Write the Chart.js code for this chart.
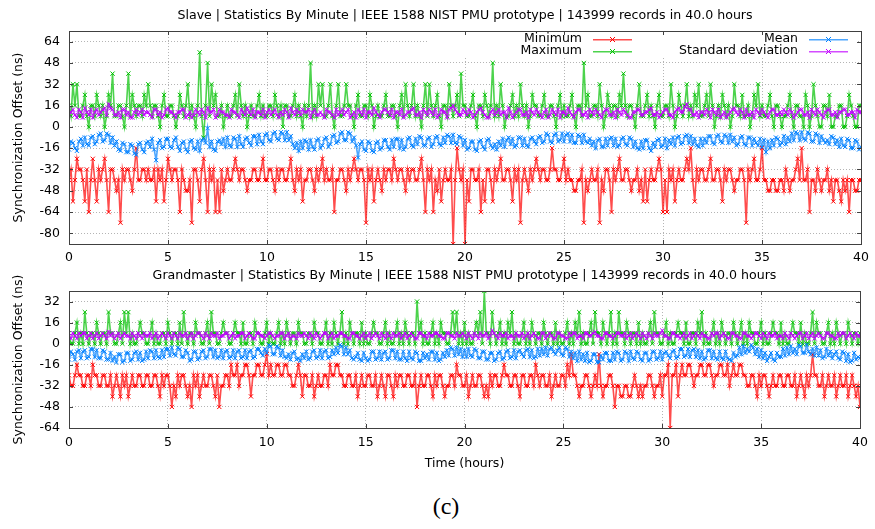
<!DOCTYPE html>
<html>
<head>
<meta charset="utf-8">
<script src="https://cdn.jsdelivr.net/npm/chart.js@4.4.1/dist/chart.umd.min.js"></script>
<style>
  html, body { margin: 0; padding: 0; background: #fff; }
  body { width: 875px; height: 529px; position: relative; overflow: hidden; }
  .panel { position: absolute; left: 0; }
  #topPanel { top: 0; }
  #bottomPanel { top: 255px; }
  #caption { position: absolute; left: 0; width: 892px; top: 493px; text-align: center;
             font: 24px "Liberation Serif", "DejaVu Serif", serif; color: #000; }
</style>
</head>
<body>
<canvas id="topPanel" class="panel" width="875" height="270"></canvas>
<canvas id="bottomPanel" class="panel" width="875" height="225"></canvas>
<div id="caption">(c)</div>
<script>
// one sample every 6 minutes, 0 .. 40 h (each row below = 2 hours)
const hoursPerSample = 0.1;
const seriesNames = ['Minimum', 'Maximum', 'Mean', 'Standard deviation'];
const slaveTicks = [64, 48, 32, 16, 0, -16, -32, -48, -64, -80];
const gmTicks = [32, 16, 0, -16, -32, -48, -64];

// Slave (ns)
const slaveMin = [
  -40,-32,-56,-40,-24,-32,-32,-40,-56,-32,-64,-40,-24,-40,-56,-32,-40,-32,-24,-40,
  -64,-32,-32,-40,-48,-40,-72,-32,-40,-32,-32,-40,-48,-32,-16,-40,-40,-32,-32,-40,
  -32,-40,-40,-32,-56,-32,-40,-32,-56,-40,-24,-32,-40,-32,-32,-40,-64,-32,-40,-48,
  -48,-40,-72,-32,-32,-40,-56,-32,-24,-40,-64,-32,-40,-32,-64,-40,-64,-32,-48,-40,
  -32,-40,-40,-32,-24,-32,-40,-32,-32,-40,-48,-40,-40,-32,-32,-40,-40,-32,-24,-40,
  -40,-32,-32,-40,-48,-32,-40,-32,-32,-40,-40,-32,-24,-40,-48,-32,-40,-32,-56,-40,
  -40,-32,-32,-40,-48,-32,-40,-32,-24,-40,-32,-40,-40,-32,-64,-40,-40,-32,-32,-40,
  -48,-32,-40,-32,-24,-32,-40,-32,-32,-40,-72,-32,-40,-32,-56,-40,-32,-40,-48,-32,
  -40,-32,-32,-40,-24,-32,-40,-32,-32,-40,-48,-32,-40,-32,-32,-40,-40,-32,-24,-40,
  -64,-32,-40,-32,-64,-40,-48,-32,-56,-40,-32,-40,-40,-32,-88,-40,-16,-32,-40,-32,
  -88,-40,-56,-32,-32,-40,-40,-32,-64,-40,-56,-32,-32,-40,-56,-32,-40,-32,-24,-40,
  -40,-32,-32,-40,-56,-32,-40,-32,-72,-40,-32,-40,-48,-32,-40,-32,-24,-32,-40,-32,
  -32,-40,-40,-32,-16,-32,-32,-40,-40,-32,-24,-40,-32,-40,-40,-48,-48,-40,-40,-32,
  -72,-40,-48,-40,-32,-40,-40,-32,-72,-40,-48,-32,-32,-40,-64,-32,-40,-32,-24,-40,
  -40,-32,-32,-40,-48,-40,-40,-32,-48,-40,-56,-32,-56,-40,-32,-40,-40,-32,-24,-32,
  -64,-40,-64,-32,-40,-32,-56,-40,-32,-40,-40,-32,-24,-32,-16,-40,-56,-32,-40,-32,
  -32,-40,-40,-32,-24,-40,-40,-32,-32,-40,-56,-32,-40,-32,-32,-40,-48,-40,-40,-32,
  -32,-40,-72,-32,-40,-32,-24,-40,-40,-32,-16,-40,-40,-48,-48,-40,-40,-48,-48,-40,
  -40,-48,-32,-40,-48,-40,-40,-32,-24,-40,-16,-40,-40,-32,-64,-40,-40,-48,-32,-40,
  -48,-40,-40,-32,-48,-40,-56,-40,-40,-48,-56,-40,-48,-40,-64,-40,-40,-48,-48,-40,
  -40
];
const slaveMax = [
  16,8,32,16,32,8,8,16,24,8,0,16,16,8,24,16,8,16,0,8,
  24,16,40,8,8,16,16,8,0,16,40,8,24,16,8,16,16,8,24,16,
  32,16,8,16,16,8,0,16,24,8,8,16,16,8,0,8,24,16,8,16,
  32,8,16,8,0,16,56,8,-8,16,48,8,32,16,24,8,8,16,0,8,
  16,8,8,16,24,8,32,16,8,16,0,8,16,8,8,16,24,8,16,8,
  8,16,16,8,24,16,8,16,0,16,16,8,8,16,24,8,16,8,0,16,
  8,16,48,8,16,8,32,16,32,8,8,16,32,8,0,16,32,8,8,16,
  32,16,16,8,0,16,24,8,8,16,16,8,24,16,0,8,16,8,8,16,
  24,8,8,16,16,8,0,16,24,8,32,16,8,16,32,8,16,8,0,16,
  32,8,32,16,8,16,24,8,0,16,16,8,32,16,8,16,24,8,40,16,
  16,8,8,16,24,8,0,16,16,8,24,16,8,16,48,8,16,8,32,16,
  0,8,8,16,24,8,16,8,32,16,8,16,0,8,24,16,16,8,8,16,
  24,8,8,16,16,8,0,16,24,8,16,8,8,16,24,8,0,16,16,8,
  48,16,24,8,8,16,16,8,32,16,0,8,24,16,8,16,16,8,24,16,
  40,16,8,16,16,8,0,16,32,8,8,16,24,8,16,8,0,16,24,8,
  8,16,16,8,32,16,0,8,24,16,8,16,32,8,16,8,24,16,32,8,
  8,16,24,8,32,16,0,8,16,8,24,16,8,16,0,8,32,16,16,8,
  24,8,8,16,0,8,24,16,32,8,16,8,8,16,24,8,0,16,16,8,
  0,8,8,16,24,8,0,16,16,8,8,0,24,16,0,8,32,16,8,0,
  0,16,16,8,24,0,0,8,8,16,16,0,0,8,24,16,8,0,0,16,
  16
];
const slaveMean = [
  -17,-11,-12,-16,-18,-11,-9,-14,-8,-13,-14,-8,-7,-13,-11,-6,-5,-11,-10,-5,
  -6,-12,-8,-14,-11,-17,-18,-12,-13,-19,-19,-13,-14,-20,-21,-13,-12,-17,-19,-12,
  -11,-15,-9,-17,-25,-12,-10,-16,-15,-9,-9,-15,-16,-10,-8,-15,-18,-12,-11,-17,
  -19,-11,-10,-16,-17,-11,-18,-10,-9,-12,-1,-15,-11,-17,-18,-11,-10,-13,-9,-15,
  -8,-14,-15,-8,-9,-15,-7,-13,-15,-9,-8,-12,-14,-7,-7,-13,-6,-11,-13,-6,
  -5,-10,-11,-5,-4,-9,-10,-4,-5,-10,-4,-10,-7,-13,-16,-12,-18,-11,-16,-10,
  -11,-17,-10,-15,-17,-10,-9,-16,-14,-9,-8,-15,-13,-7,-6,-12,-11,-5,-4,-10,
  -10,-4,-5,-11,-8,-14,-23,-13,-11,-17,-18,-11,-12,-18,-19,-12,-11,-17,-16,-10,
  -10,-15,-17,-10,-15,-9,-9,-16,-10,-17,-15,-9,-8,-14,-15,-9,-13,-7,-8,-14,
  -14,-9,-8,-15,-13,-8,-7,-13,-14,-8,-12,-6,-7,-12,-6,-12,-13,-7,-8,-14,
  -10,-17,-16,-11,-11,-17,-18,-11,-10,-15,-17,-10,-9,-14,-16,-13,-17,-11,-14,-9,
  -15,-10,-8,-13,-9,-15,-14,-8,-8,-14,-9,-14,-15,-9,-8,-11,-13,-8,-7,-12,
  -11,-5,-6,-11,-12,-6,-5,-11,-10,-5,-11,-6,-5,-11,-6,-12,-12,-6,-7,-12,
  -6,-11,-12,-9,-14,-11,-16,-10,-9,-15,-15,-9,-14,-9,-8,-14,-9,-15,-14,-9,
  -8,-13,-14,-8,-9,-15,-11,-16,-17,-11,-16,-10,-10,-16,-18,-12,-15,-10,-9,-15,
  -14,-9,-16,-10,-13,-8,-14,-8,-7,-13,-12,-7,-6,-12,-7,-13,-9,-14,-15,-9,
  -14,-9,-12,-7,-7,-12,-13,-7,-6,-11,-12,-6,-7,-12,-6,-11,-8,-14,-13,-8,
  -7,-13,-14,-8,-8,-14,-9,-12,-14,-9,-15,-10,-19,-11,-16,-10,-14,-8,-9,-14,
  -12,-7,-13,-8,-11,-5,-10,-4,-5,-10,-4,-9,-10,-4,-5,-11,-11,-5,-6,-12,
  -7,-10,-12,-10,-13,-7,-8,-13,-10,-15,-9,-14,-15,-9,-10,-16,-16,-10,-11,-17,
  -15
];
const slaveStd = [
  9,11,13,9,7,13,11,7,14,11,9,13,7,11,13,9,11,13,14,9,
  17,14,13,9,9,11,7,13,13,9,11,7,7,11,13,9,11,13,9,11,
  11,9,7,13,13,9,11,7,9,13,14,11,11,9,7,11,11,13,13,7,
  9,11,7,9,13,11,9,13,11,7,14,11,11,13,7,9,13,11,11,9,
  9,7,13,11,11,9,7,13,11,9,14,11,9,13,7,11,11,9,13,7,
  11,13,9,11,13,9,7,11,9,13,11,7,14,11,9,13,11,9,13,11,
  11,13,7,11,13,9,9,11,9,7,13,11,11,9,7,13,9,11,13,9,
  11,13,7,9,11,7,13,11,9,13,7,11,11,9,14,11,9,7,11,13,
  13,11,9,13,7,11,11,9,13,7,9,11,11,13,14,9,9,11,7,13,
  11,9,13,11,9,13,7,9,13,11,11,7,13,14,16,13,11,9,9,13,
  11,9,13,11,7,9,11,13,14,11,9,7,7,11,13,9,11,13,9,11,
  11,7,14,11,7,9,11,13,13,9,9,11,7,13,11,9,13,11,9,7,
  11,13,7,9,13,11,9,13,7,11,11,9,14,11,9,7,11,13,13,9,
  9,11,7,13,11,9,13,11,9,7,11,13,13,9,9,11,7,13,11,9,
  13,11,9,7,7,11,11,13,13,9,9,11,11,13,14,9,9,11,7,9,
  11,13,13,9,9,7,11,13,14,11,11,15,17,13,13,9,9,11,7,11,
  11,9,13,11,7,13,11,9,13,7,9,11,7,9,11,13,14,11,9,13,
  11,7,13,9,9,11,7,13,11,9,13,11,9,7,11,13,13,9,9,11,
  9,13,11,9,13,11,7,9,11,13,13,9,9,11,7,13,11,9,13,11,
  9,7,11,13,13,9,9,11,7,11,11,13,13,9,9,11,11,7,13,11,
  11
];

// Grandmaster (ns)
const gmMin = [
  -24,-32,-32,-24,-16,-24,-24,-32,-32,-24,-24,-32,-16,-24,-24,-32,-32,-24,-24,-32,
  -32,-24,-40,-32,-24,-32,-40,-24,-32,-24,-40,-32,-24,-32,-32,-24,-24,-32,-32,-24,
  -24,-32,-32,-24,-24,-32,-40,-24,-32,-24,-24,-32,-48,-32,-40,-24,-32,-24,-24,-32,
  -40,-32,-48,-24,-32,-24,-40,-32,-24,-32,-32,-24,-24,-32,-40,-24,-48,-32,-32,-24,
  -24,-32,-16,-24,-24,-16,-32,-24,-24,-16,-16,-24,-40,-24,-24,-16,-16,-24,-24,-16,
  -8,-24,-16,-24,-24,-16,-16,-24,-24,-16,-16,-24,-24,-32,-32,-24,-16,-24,-40,-24,
  -24,-32,-32,-24,-40,-32,-24,-32,-32,-24,-24,-32,-16,-24,-24,-16,-16,-24,-24,-32,
  -32,-24,-24,-32,-32,-24,-40,-32,-24,-32,-32,-24,-24,-32,-32,-24,-40,-32,-24,-32,
  -40,-24,-24,-32,-40,-24,-32,-24,-24,-32,-32,-24,-24,-32,-32,-24,-48,-32,-24,-32,
  -32,-24,-24,-32,-40,-24,-32,-24,-24,-32,-40,-32,-32,-24,-24,-32,-16,-24,-24,-32,
  -32,-24,-40,-32,-24,-32,-32,-24,-24,-32,-40,-32,-40,-24,-32,-24,-24,-32,-32,-24,
  -16,-24,-24,-32,-32,-24,-24,-32,-40,-24,-24,-32,-32,-24,-24,-32,-16,-24,-32,-24,
  -24,-32,-32,-24,-40,-32,-24,-32,-32,-24,-24,-32,-16,-24,-8,-24,-24,-32,-40,-32,
  -32,-24,-24,-32,-40,-32,-24,-32,-8,-32,-40,-32,-32,-24,-24,-32,-48,-32,-32,-40,
  -40,-32,-32,-40,-40,-32,-24,-32,-40,-32,-40,-32,-32,-24,-24,-32,-40,-32,-32,-24,
  -40,-24,-24,-16,-64,-24,-24,-16,-40,-24,-16,-24,-24,-16,-16,-24,-32,-24,-24,-16,
  -16,-24,-24,-16,-16,-24,-32,-24,-24,-16,-16,-24,-24,-16,-32,-24,-16,-24,-24,-16,
  -16,-24,-24,-32,-32,-24,-24,-32,-40,-24,-32,-24,-24,-32,-40,-32,-24,-32,-32,-24,
  -24,-32,-32,-24,-24,-32,-32,-24,-40,-32,-24,-32,-40,-24,-32,-24,-8,-24,-24,-32,
  -32,-24,-40,-32,-24,-32,-32,-24,-40,-32,-24,-32,-32,-24,-40,-32,-24,-32,-40,-32,
  -48
];
const gmMax = [
  8,0,0,8,16,0,8,0,24,8,0,8,8,0,16,8,0,8,8,0,
  24,8,8,0,0,8,16,0,24,8,24,0,8,0,0,8,16,8,8,0,
  0,8,16,0,8,0,0,8,8,0,16,8,0,8,8,0,16,0,24,8,
  0,8,8,0,16,8,8,0,0,8,16,0,24,8,8,0,0,8,16,8,
  8,0,0,8,16,8,8,0,16,0,0,8,8,0,16,8,8,0,0,8,
  16,0,8,0,0,8,16,0,8,0,16,8,0,8,8,0,16,8,8,0,
  0,8,8,0,16,8,8,0,0,8,16,0,8,0,16,8,0,8,24,0,
  8,0,16,8,0,8,8,0,16,0,8,0,0,8,16,8,8,0,0,8,
  16,0,8,0,0,8,16,0,8,0,16,8,0,8,8,0,32,8,16,0,
  8,0,0,8,16,0,8,0,16,8,8,0,0,8,24,8,24,0,8,0,
  16,0,8,0,0,8,16,8,24,0,40,8,8,0,24,8,0,8,16,0,
  8,0,16,8,24,0,8,0,0,8,16,0,8,0,16,8,0,8,8,0,
  16,8,0,8,8,0,16,0,8,0,0,8,16,0,8,0,16,8,24,0,
  8,0,0,8,16,0,24,8,8,0,16,8,0,8,24,0,8,0,24,8,
  8,0,16,8,0,8,8,0,16,0,8,0,0,8,16,0,24,8,8,0,
  0,8,16,0,8,0,0,8,16,8,8,0,16,0,0,8,8,0,16,8,
  24,0,8,0,0,8,16,0,8,0,16,8,0,8,8,0,16,8,0,8,
  16,0,8,0,16,8,8,0,0,8,16,0,8,0,0,8,16,8,8,0,
  16,0,8,0,0,8,16,8,8,0,16,0,8,0,0,8,24,0,16,8,
  8,0,0,8,16,0,8,0,16,8,0,8,8,0,16,8,0,8,8,0,
  8
];
const gmMean = [
  -12,-6,-8,-12,-6,-5,-11,-6,-5,-11,-10,-4,-4,-10,-5,-11,-11,-5,-6,-12,
  -12,-7,-13,-10,-14,-8,-8,-14,-13,-7,-7,-13,-12,-7,-6,-12,-7,-13,-12,-6,
  -11,-5,-6,-11,-5,-10,-11,-5,-10,-4,-4,-9,-3,-8,-9,-3,-4,-10,-10,-5,
  -7,-13,-12,-6,-6,-12,-11,-6,-5,-11,-10,-4,-4,-10,-5,-11,-10,-5,-11,-6,
  -5,-11,-10,-5,-11,-6,-5,-11,-10,-5,-11,-6,-5,-11,-10,-4,-4,-7,-9,-4,
  -7,-1,-2,-8,-8,-2,-3,-9,-5,-10,-11,-8,-12,-7,-6,-12,-11,-13,-8,-11,
  -6,-12,-11,-6,-5,-11,-10,-5,-11,-6,-5,-11,-10,-5,-8,-3,-7,-1,-2,-8,
  -3,-8,-5,-11,-12,-10,-7,-12,-13,-7,-11,-13,-12,-6,-6,-12,-11,-6,-12,-7,
  -6,-12,-11,-5,-5,-11,-6,-12,-12,-6,-11,-13,-6,-11,-12,-6,-7,-13,-13,-7,
  -11,-8,-12,-6,-6,-12,-7,-13,-12,-7,-10,-5,-9,-3,-4,-9,-3,-8,-4,-10,
  -5,-10,-4,-9,-10,-4,-5,-11,-11,-6,-6,-12,-12,-7,-7,-13,-12,-7,-6,-12,
  -11,-6,-5,-11,-10,-5,-11,-6,-5,-8,-10,-5,-4,-10,-5,-11,-10,-4,-9,-4,
  -8,-3,-9,-4,-3,-6,-8,-5,-3,-8,-9,-3,-4,-10,-6,-11,-7,-13,-6,-12,
  -8,-13,-7,-14,-13,-8,-8,-14,-14,-9,-12,-7,-7,-13,-13,-7,-12,-6,-7,-13,
  -12,-6,-7,-13,-6,-11,-12,-6,-7,-12,-13,-7,-7,-13,-12,-6,-6,-12,-11,-6,
  -12,-7,-6,-9,-11,-6,-5,-11,-10,-4,-4,-10,-9,-4,-10,-5,-4,-10,-5,-11,
  -6,-12,-11,-5,-5,-11,-6,-11,-12,-6,-11,-12,-6,-11,-12,-13,-7,-10,-9,-3,
  -8,-2,-7,-4,-6,-1,-3,-8,-4,-10,-5,-11,-7,-13,-10,-7,-12,-13,-7,-10,
  -10,-4,-9,-3,-8,-2,-7,-4,-8,-1,-2,-7,-7,-1,-6,-8,-4,-9,-3,-9,
  -5,-11,-10,-4,-9,-6,-11,-8,-6,-11,-12,-6,-7,-13,-8,-14,-13,-7,-12,-10,
  -11
];
const gmStd = [
  6,4,8,6,4,8,6,8,8,4,6,8,4,6,8,4,6,8,6,4,
  9,6,8,4,6,8,4,6,8,6,6,4,8,6,4,8,6,4,8,6,
  6,8,4,6,8,4,6,8,6,4,8,6,4,8,6,4,8,6,6,8,
  4,6,8,4,6,8,8,6,4,8,6,4,8,6,6,8,4,6,6,8,
  8,4,6,8,4,6,6,8,8,4,6,8,6,4,4,8,8,6,6,4,
  6,8,8,6,4,6,6,8,8,4,6,8,4,6,6,4,8,6,6,8,
  6,4,8,6,4,8,6,4,6,8,8,4,6,8,4,6,6,8,8,6,
  6,4,4,8,8,6,6,4,6,8,4,6,8,4,6,8,6,4,8,6,
  4,8,6,4,8,6,6,8,4,6,8,4,6,8,6,4,4,8,8,6,
  6,4,8,6,6,8,8,6,6,4,4,8,8,6,6,4,8,6,6,8,
  6,4,8,6,4,8,6,4,8,6,6,8,4,6,10,8,6,4,8,6,
  6,8,4,6,6,4,8,6,6,8,4,6,8,4,6,8,6,4,4,8,
  8,4,6,8,6,4,4,8,8,6,6,4,4,8,6,8,8,4,6,6,
  4,8,8,6,6,8,9,6,6,4,4,8,8,6,6,4,6,8,8,6,
  6,8,4,6,8,4,6,8,6,4,8,6,4,8,6,4,8,6,6,8,
  10,6,6,4,4,8,8,6,6,4,6,8,4,6,8,4,6,8,6,4,
  8,6,6,4,4,8,6,8,8,4,6,8,6,4,4,8,8,6,6,4,
  4,8,8,6,6,4,6,8,8,6,4,8,6,4,8,6,6,8,4,6,
  6,4,8,6,4,8,6,4,6,8,8,4,6,8,4,6,8,4,6,8,
  6,4,4,8,8,6,6,4,4,8,6,8,8,4,6,8,6,4,8,6,
  6
];

const FONT = '"DejaVu Sans", sans-serif';
const colors = ['#ff0000', '#00c000', '#0080ff', '#c000ff'];
const lineColors = ['rgba(255,0,0,0.7)', 'rgba(0,192,0,0.7)', 'rgba(0,128,255,0.7)', 'rgba(192,0,255,0.7)'];

function toPoints(values) {
  return values.map((v, i) => ({ x: i * hoursPerSample, y: v }));
}

function makeDatasets(series) {
  return series.map((values, i) => ({
    label: seriesNames[i],
    data: toPoints(values),
    borderColor: lineColors[i],
    borderWidth: 1.6,
    pointStyle: 'crossRot',
    pointRadius: 3,
    pointBorderWidth: 1,
    pointBorderColor: colors[i],
    pointBackgroundColor: colors[i],
    order: 4 - i
  }));
}

// gnuplot-like frame with inner tick marks
const framePlugin = {
  id: 'frame',
  afterDraw(chart) {
    const { ctx, chartArea: a, scales } = chart;
    ctx.save();
    ctx.strokeStyle = '#404040';
    ctx.lineWidth = 1;
    ctx.beginPath();
    scales.x.ticks.forEach(t => {
      const px = Math.round(scales.x.getPixelForValue(t.value)) + 0.5;
      ctx.moveTo(px, a.bottom); ctx.lineTo(px, a.bottom - 4);
      ctx.moveTo(px, a.top); ctx.lineTo(px, a.top + 4);
    });
    scales.y.ticks.forEach(t => {
      const py = Math.round(scales.y.getPixelForValue(t.value)) + 0.5;
      ctx.moveTo(a.left, py); ctx.lineTo(a.left + 4, py);
      ctx.moveTo(a.right, py); ctx.lineTo(a.right - 4, py);
    });
    ctx.stroke();
    ctx.strokeRect(Math.round(a.left) + 0.5, Math.round(a.top) + 0.5,
                   Math.round(a.right - a.left), Math.round(a.bottom - a.top));
    ctx.restore();
  }
};

// key in two columns, top right of the slave panel
const keyPlugin = {
  id: 'key',
  beforeDatasetsDraw(chart, args, opts) {
    if (!opts.show) return;
    const ctx = chart.ctx;
    ctx.save();
    ctx.fillStyle = '#fff';
    ctx.fillRect(428, chart.chartArea.top + 1, 430, 26);
    ctx.restore();
  },
  afterDatasetsDraw(chart, args, opts) {
    if (!opts.show) return;
    const ctx = chart.ctx;
    const slots = [[582, 39], [582, 51], [798, 39], [798, 51]];
    ctx.save();
    ctx.font = '12.5px ' + FONT;
    ctx.textAlign = 'right';
    ctx.textBaseline = 'middle';
    seriesNames.forEach((name, i) => {
      const [x, y] = slots[i];
      ctx.fillStyle = '#000';
      ctx.fillText(name, x, y);
      ctx.fillStyle = lineColors[i];
      ctx.fillRect(x + 11, y, 39, 1.5);
      const cx = x + 30.5;
      ctx.strokeStyle = colors[i];
      ctx.lineWidth = 1;
      ctx.beginPath();
      ctx.moveTo(cx - 2.5, y - 2); ctx.lineTo(cx + 2.5, y + 3);
      ctx.moveTo(cx - 2.5, y + 3); ctx.lineTo(cx + 2.5, y - 2);
      ctx.stroke();
    });
    ctx.restore();
  }
};

function makePanel(id, cfg) {
  const font = { family: FONT, size: 12.5 };
  return new Chart(document.getElementById(id), {
    type: 'line',
    data: { datasets: makeDatasets(cfg.series) },
    plugins: [framePlugin, keyPlugin],
    options: {
      responsive: false,
      animation: false,
      events: [],
      layout: { padding: { left: 0, right: 11, top: 0, bottom: 0 } },
      plugins: {
        legend: { display: false },
        tooltip: { enabled: false },
        key: { show: cfg.key },
        title: {
          display: true, text: cfg.title, fullSize: false, color: '#000',
          font: { family: FONT, size: 12.6, weight: 'normal', lineHeight: 1.2 },
          padding: { top: cfg.titleTop, bottom: cfg.titleBottom }
        }
      },
      scales: {
        x: {
          type: 'linear', min: 0, max: 40,
          ticks: { stepSize: 5, color: '#000', font, padding: cfg.xTickPad, maxRotation: 0 },
          grid: { color: '#b4b4b4', drawTicks: false },
          border: { display: false, dash: [1, 2] },
          title: { display: !!cfg.xTitle, text: cfg.xTitle || '', color: '#000', font,
                   padding: { top: 0, bottom: 9 } },
          afterFit: s => { s.height = cfg.xHeight; }
        },
        y: {
          type: 'linear', min: cfg.yMin, max: cfg.yMax,
          afterBuildTicks: s => { s.ticks = cfg.ticks.map(v => ({ value: v })); },
          ticks: { color: '#000', font, padding: 9 },
          grid: { color: '#b4b4b4', drawTicks: false },
          border: { display: false, dash: [1, 2] },
          title: { display: true, text: 'Synchronization Offset (ns)', color: '#000', font,
                   padding: { top: 11, bottom: 0 } },
          afterFit: s => { s.width = 69; }
        }
      }
    }
  });
}

makePanel('topPanel', {
  title: 'Slave | Statistics By Minute | IEEE 1588 NIST PMU prototype | 143999 records in 40.0 hours',
  series: [slaveMin, slaveMax, slaveMean, slaveStd],
  ticks: slaveTicks, yMin: -88, yMax: 72,
  titleTop: 8, titleBottom: 7.9, xHeight: 26, xTickPad: 6, key: true
});

makePanel('bottomPanel', {
  title: 'Grandmaster | Statistics By Minute | IEEE 1588 NIST PMU prototype | 143999 records in 40.0 hours',
  series: [gmMin, gmMax, gmMean, gmStd],
  ticks: gmTicks, yMin: -64, yMax: 40,
  titleTop: 13, titleBottom: 7.9, xHeight: 52, xTickPad: 7, xTitle: 'Time (hours)', key: false
});
</script>
</body>
</html>
